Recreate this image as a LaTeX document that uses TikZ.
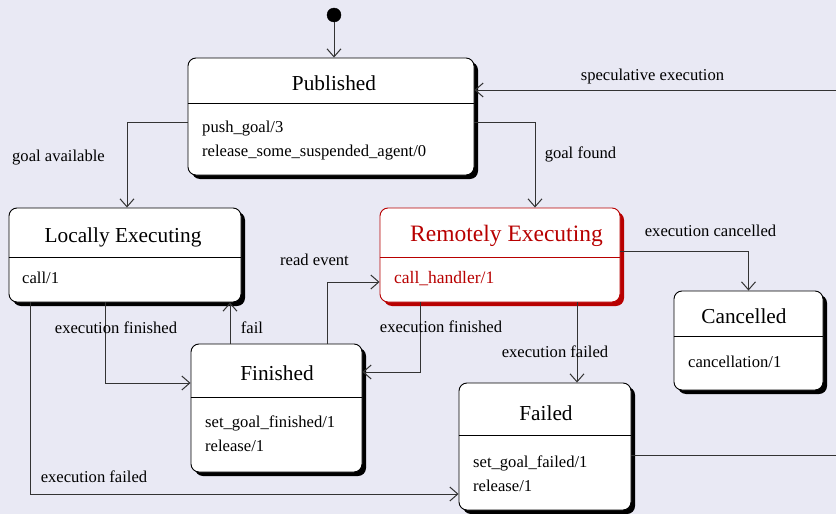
\documentclass[tikz,border=0pt]{standalone}
\usepackage{fontspec}
\setmainfont{Liberation Serif}
\usepackage{xcolor}
\usepackage{tikz}
\usetikzlibrary{arrows.meta,shadows}

\definecolor{paper}{HTML}{E9E9F4}
\definecolor{alert}{HTML}{B80000}
\definecolor{wire}{HTML}{333333}

\newcommand{\headsize}{\fontsize{21.3}{26}\selectfont}
\newcommand{\bodysize}{\fontsize{16.6}{24}\selectfont}
\newcommand{\alertheadsize}{\fontsize{23.5}{28}\selectfont}
\newcommand{\alertbodysize}{\fontsize{17.5}{24}\selectfont}

\begin{document}
\begin{tikzpicture}[x=1pt,y=-1pt,
    box/.style={draw,fill=white,rounded corners=8pt,line width=0.9pt,inner sep=0},
    state/.style={box,drop shadow={shadow xshift=4pt,shadow yshift=-4pt,fill=black,opacity=1}},
    remote/.style={box,draw=alert,drop shadow={shadow xshift=4pt,shadow yshift=-4pt,fill=alert,opacity=1}},
    head/.style={anchor=base,font=\headsize,inner sep=0},
    item/.style={anchor=base west,font=\bodysize,inner sep=0},
    lbl/.style={anchor=base,font=\bodysize,inner sep=0},
    rule/.style={line width=0.9pt},
    link/.style={draw=wire,line width=1pt},
    flow/.style={link,-{Straight Barb[length=8pt,width=14pt]}}]
    \useasboundingbox (0,0) rectangle (836,514);
    \fill[paper] (0,0) rectangle (836,514);
    \clip (0,0) rectangle (836,514);

    % states
    \node[state,minimum width=286pt,minimum height=117pt] (pub) at (331,116.5) {};
    \node[state,minimum width=232pt,minimum height=94pt] (le) at (125,255) {};
    \node[remote,minimum width=240pt,minimum height=94pt] (re) at (500,255) {};
    \node[state,minimum width=149pt,minimum height=99pt] (can) at (748.5,340.5) {};
    \node[state,minimum width=171pt,minimum height=128pt] (fin) at (276.5,408) {};
    \node[state,minimum width=172pt,minimum height=127pt] (fail) at (545,446.5) {};

    % title bars
    \draw[rule] ([yshift=-46pt]pub.north west) -- ([yshift=-46pt]pub.north east);
    \draw[rule] ([yshift=-50pt]le.north west) -- ([yshift=-50pt]le.north east);
    \draw[rule,alert] ([yshift=-50pt]re.north west) -- ([yshift=-50pt]re.north east);
    \draw[rule] ([yshift=-46pt]can.north west) -- ([yshift=-46pt]can.north east);
    \draw[rule] ([yshift=-54pt]fin.north west) -- ([yshift=-54pt]fin.north east);
    \draw[rule] ([yshift=-53pt]fail.north west) -- ([yshift=-53pt]fail.north east);

    \node[head] (pubname) at (334,90.5) {Published};
    \node[item] (pub1) at (202,132) {push\_goal/3};
    \node[item] (pub2) at (202,156) {release\_some\_suspended\_agent/0};

    \node[head] (lename) at (123,242) {Locally Executing};
    \node[item] (le1) at (22,283) {call/1};

    \node[head,font=\alertheadsize,text=alert] (rename) at (506.5,241.5) {Remotely Executing};
    \node[item,font=\alertbodysize,text=alert] (re1) at (394,283) {call\_handler/1};

    \node[head] (canname) at (744,323) {Cancelled};
    \node[item] (can1) at (688,367) {cancellation/1};

    \node[head] (finname) at (277,380.5) {Finished};
    \node[item] (fin1) at (205,427) {set\_goal\_finished/1};
    \node[item] (fin2) at (205,451) {release/1};

    \node[head] (failname) at (546,420) {Failed};
    \node[item] (fail1) at (473,467) {set\_goal\_failed/1};
    \node[item] (fail2) at (473,491) {release/1};

    % initial state
    \node[draw,circle,fill=black,minimum size=14pt,inner sep=0] (init) at (334,15) {};
    \draw[flow] (init) -- (init |- pub.north);

    % transitions
    \draw[flow] ([yshift=-5.5pt]pub.west) -| ([xshift=2pt]le.north)
        node[lbl] at (58.5,161) {goal available};
    \draw[flow] ([yshift=-5.5pt]pub.east) -| ([xshift=35pt]re.north)
        node[lbl] at (580.5,158) {goal found};
    \draw[flow] ([yshift=-8.5pt]fail.east) -- ++(240,0) |- ([yshift=26.5pt]pub.east)
        node[lbl] at (652.5,80) {speculative execution};
    \draw[flow] ([yshift=4pt]re.east) -| (can.north)
        node[lbl] at (710.5,236.5) {execution cancelled};
    \draw[flow] ([xshift=77pt]re.south) -- ([xshift=32pt]fail.north)
        node[lbl] at (555,357.5) {execution failed};
    \draw[flow] ([xshift=-80pt]re.south) |- ([yshift=36pt]fin.east)
        node[lbl] at (441,332) {execution finished};
    \draw[flow] ([xshift=50.5pt]fin.north) |- ([yshift=-27pt]re.west)
        node[lbl] at (314.5,265) {read event};
    \draw[flow] ([xshift=-20pt]le.south) |- ([yshift=25pt]fin.west)
        node[lbl] at (116,333) {execution finished};
    \draw[flow] ([xshift=-46.5pt]fin.north) -- ([xshift=105pt]le.south)
        node[lbl] at (252,333) {fail};
    \draw[flow] ([xshift=-95pt]le.south) |- ([yshift=-47.5pt]fail.west)
        node[lbl] at (94,482.5) {execution failed};
\end{tikzpicture}
\end{document}
